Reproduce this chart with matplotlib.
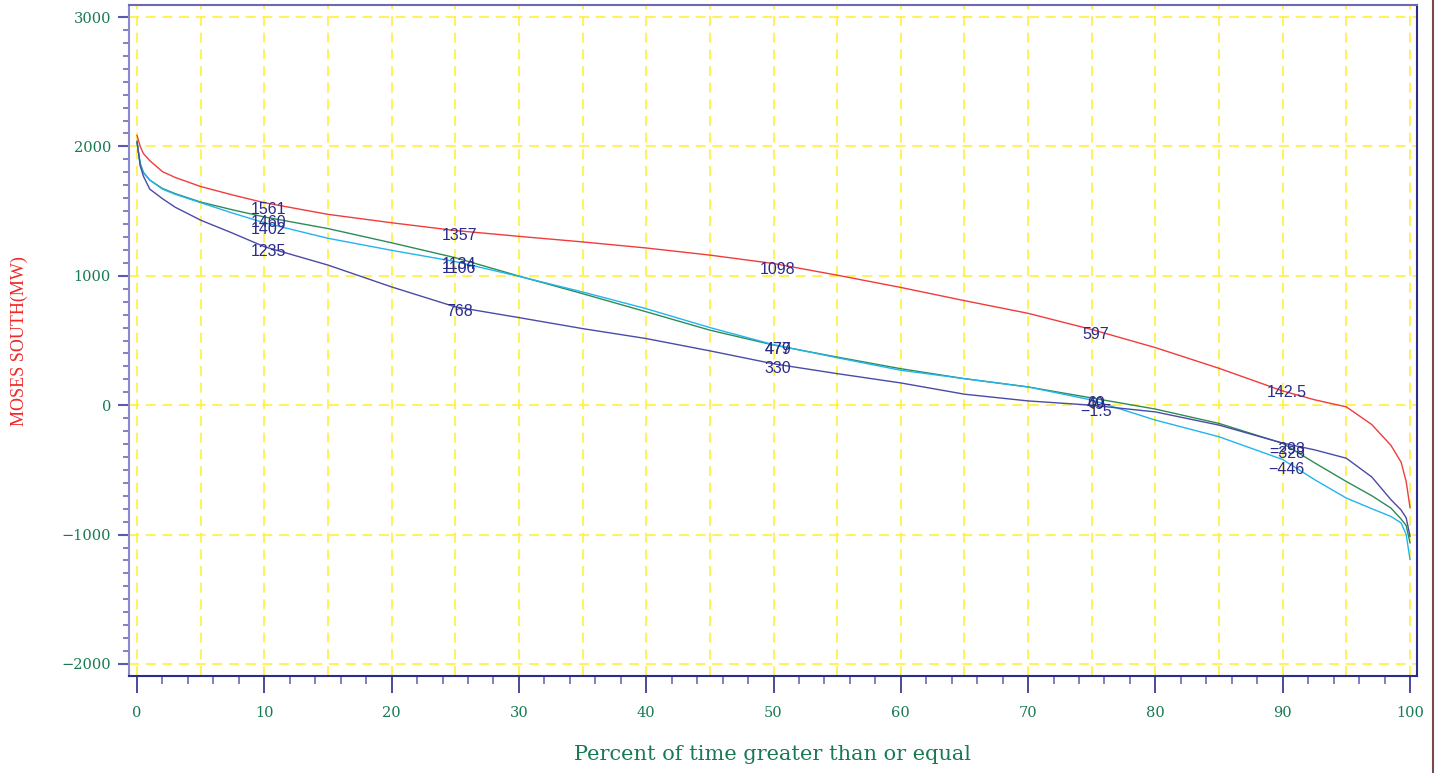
import matplotlib
matplotlib.use("Agg")
import matplotlib.pyplot as plt
from matplotlib.ticker import MultipleLocator
from matplotlib.lines import Line2D

# ---------------- data ----------------
pct = [0, 0.25, 0.5, 1, 2, 3, 5, 7.5, 10, 15, 20, 25, 30, 35, 40, 45, 50, 55,
       60, 65, 70, 75, 80, 85, 90, 92.5, 95, 97, 98.5, 99.3, 99.7, 100]

red_vals = [2085, 2000, 1945, 1890, 1805, 1760, 1690, 1625, 1565, 1475, 1410,
            1350, 1305, 1262, 1215, 1160, 1095, 1005, 910, 808, 710, 585, 445,
            285, 110, 42, -13, -150, -310, -440, -590, -790]
green_vals = [2030, 1870, 1800, 1740, 1675, 1635, 1570, 1510, 1455, 1365, 1255,
              1140, 998, 862, 722, 580, 465, 372, 282, 205, 141, 56, -30, -141,
              -295, -445, -590, -700, -795, -880, -930, -1064]
cyan_vals = [2030, 1860, 1795, 1740, 1670, 1630, 1565, 1485, 1410, 1290, 1197,
             1110, 996, 875, 746, 600, 468, 367, 270, 205, 141, 40, -115, -244,
             -420, -575, -718, -800, -860, -910, -1000, -1192]
navy_vals = [2040, 1850, 1770, 1670, 1596, 1530, 1430, 1330, 1225, 1083, 914,
             760, 677, 592, 515, 420, 320, 244, 172, 85, 33, 0, -52, -154,
             -293, -345, -410, -555, -730, -810, -870, -1013]

label_pct = [10, 25, 50, 75, 90]
red_labels = [1561, 1357, 1098, 597, 142.5]
green_labels = [1460, 1134, 479, 60, -328]
cyan_labels = [1402, 1106, 477, 49, -446]
navy_labels = [1235, 768, 330, -1.5, -293]

x_title = "Percent of time greater than or equal"
y_title = "MOSES SOUTH(MW)"

# ---------------- style ----------------
TICK_GREEN = "#177a52"
LABEL_NAVY = "#2b2b8c"
GRID_YELLOW = "#fff03c"

fig = plt.figure(figsize=(14.39, 7.73), dpi=100)
ax = fig.add_axes([129 / 1439, 1 - 676 / 773, (1417 - 129) / 1439, (676 - 5) / 773])

series = [
    (red_vals, "#f03c3c", red_labels),
    (green_vals, "#2e8b57", green_labels),
    (cyan_vals, "#22b4ee", cyan_labels),
    (navy_vals, "#4a4aa8", navy_labels),
]

for vals, col, _ in series:
    ax.plot(pct, vals, color=col, lw=1.0, zorder=3)


def fmt(v):
    s = f"{abs(v):g}"
    return ("\u2212" + s) if v < 0 else s


for vals, col, labs in series:
    for xp, lv in zip(label_pct, labs):
        ax.annotate(fmt(lv), xy=(xp, lv), xytext=(3, 1), textcoords="offset points",
                    ha="center", va="top", fontsize=11.5, color=LABEL_NAVY,
                    family="Liberation Sans", zorder=4)

ax.set_xlim(-0.63, 100.55)
ax.set_ylim(-2093, 3093)

ax.xaxis.set_major_locator(MultipleLocator(10))
ax.xaxis.set_minor_locator(MultipleLocator(2))
ax.yaxis.set_major_locator(MultipleLocator(1000))
ax.yaxis.set_minor_locator(MultipleLocator(100))

# grid: vertical every 5, horizontal every 1000
for gx in range(0, 101, 5):
    ax.axvline(gx, color=GRID_YELLOW, lw=1.2, ls=(0, (6, 4)), zorder=1)
for gy in range(-2000, 3001, 1000):
    ax.axhline(gy, color=GRID_YELLOW, lw=1.2, ls=(0, (6, 4)), zorder=1)

ax.tick_params(axis="x", which="major", direction="out", length=12, width=1.2,
               color="#2b2b8c", pad=9.5, labelsize=10.5, labelcolor=TICK_GREEN)
ax.tick_params(axis="x", which="minor", direction="out", length=6, width=1.2,
               color="#6b6bb8")
ax.tick_params(axis="y", which="major", direction="out", length=8, width=1.5,
               color="#5a5ab0", pad=5, labelsize=10.5, labelcolor=TICK_GREEN)
ax.tick_params(axis="y", which="minor", direction="out", length=4, width=1.2,
               color="#6b6bb8")

ax.set_yticks(range(-2000, 3001, 1000))
ax.set_yticklabels([fmt(v) for v in range(-2000, 3001, 1000)])

for lab in ax.get_xticklabels() + ax.get_yticklabels():
    lab.set_family("DejaVu Serif")

for side, sp in ax.spines.items():
    sp.set_linewidth(1.5)
ax.spines["left"].set_color("#8a8acc")
ax.spines["top"].set_color("#6a6ab8")
ax.spines["bottom"].set_color("#2b2b8c")
ax.spines["right"].set_color("#2b2b8c")

fig.text(773 / 1439, 1 - 755 / 773, x_title, ha="center", va="center",
         family="DejaVu Serif", fontsize=15, color=TICK_GREEN)
fig.text(19 / 1439, 1 - 341 / 773, y_title, ha="center", va="center",
         rotation=90, family="Liberation Serif", fontsize=13, color="#ee2a2a")

fig.add_artist(Line2D([1433 / 1439, 1433 / 1439], [0, 1], color="#7a4a4a", lw=1.5))

fig.savefig("out.png", dpi=100, facecolor="white")
